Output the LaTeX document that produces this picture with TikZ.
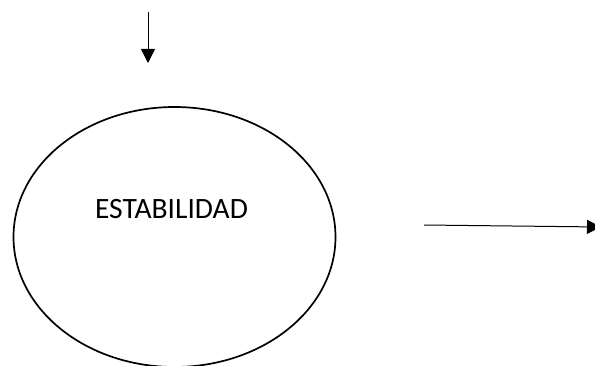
\documentclass[tikz,border=0pt]{standalone}
\usepackage{fontspec}
\setmainfont{Carlito}
\usetikzlibrary{arrows.meta, shapes.geometric}

\def\pagew{595}
\def\pageh{365}

\begin{document}
\begin{tikzpicture}[x=1pt, y=1pt,
    every node/.style={align=center},
    flecha/.style={line width=1pt, -{Triangle[length=14pt, width=14pt]}}]
\useasboundingbox (0, 0) rectangle (\pagew, \pageh);
\clip (0, 0) rectangle (\pagew, \pageh);
\node[draw, ellipse, line width=1.7pt, minimum width=322pt, minimum height=260pt, inner sep=0pt] (estab) at (174.5, 128) {};
\node[font=\fontsize{29.5}{35}\selectfont] (estabtxt) at (171.5, 156) {ESTABILIDAD};
\coordinate (arriba0) at (148, 353);
\coordinate (arriba1) at (148, 302);
\coordinate (der0) at (424, 140);
\coordinate (der1) at (601, 138);
\draw[flecha] (arriba0) -- (arriba1);
\draw[flecha] (der0) -- (der1);
\end{tikzpicture}
\end{document}
